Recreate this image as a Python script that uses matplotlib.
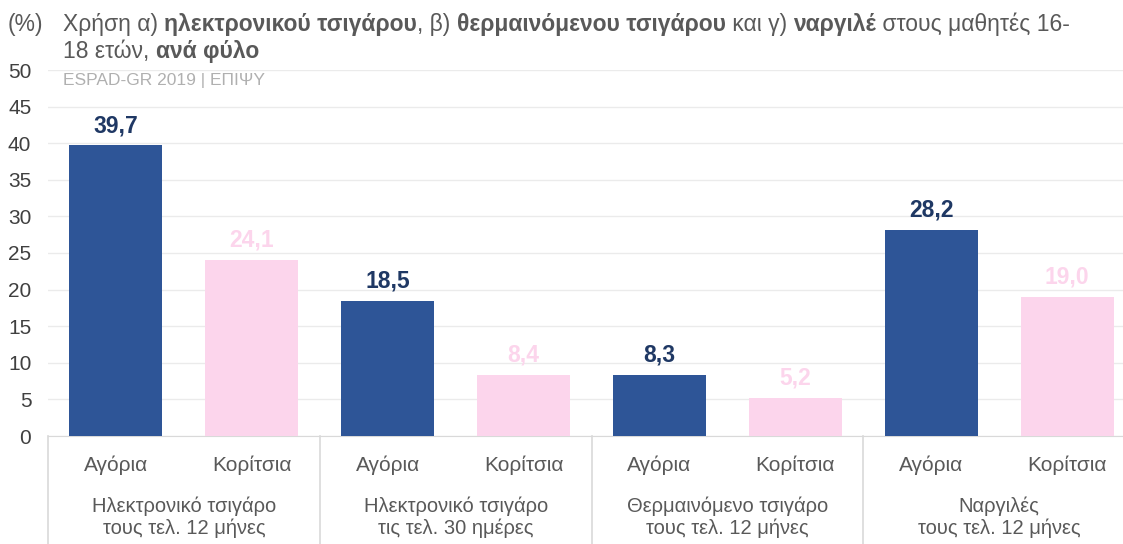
import matplotlib.pyplot as plt
import matplotlib.transforms as mtransforms

plt.rcParams['font.family'] = ['Liberation Sans', 'DejaVu Sans']

# data
groups = ['Ηλεκτρονικό τσιγάρο\nτους τελ. 12 μήνες',
          'Ηλεκτρονικό τσιγάρο\nτις τελ. 30 ημέρες',
          'Θερμαινόμενο τσιγάρο\nτους τελ. 12 μήνες',
          'Ναργιλές\nτους τελ. 12 μήνες']
sexes = ['Αγόρια', 'Κορίτσια']
boys = [39.7, 18.5, 8.3, 28.2]
girls = [24.1, 8.4, 5.2, 19.0]

navy = '#2e5597'
navy_txt = '#1f3864'
pink = '#fcd5ec'
grey_txt = '#595959'

fig = plt.figure(figsize=(11.23, 5.44), dpi=100)
W, H = 1123, 544
ax = fig.add_axes([48 / W, 108 / H, 1087 / W, 366 / H])

values, colors, lblcol, ticks = [], [], [], []
for b, g in zip(boys, girls):
    values += [b, g]
    colors += [navy, pink]
    lblcol += [navy_txt, pink]
    ticks += sexes
xs = list(range(len(values)))
bars = ax.bar(xs, values, width=0.685, color=colors, zorder=3)
for rect, v, c in zip(bars, values, lblcol):
    ax.annotate(f'{v:.1f}'.replace('.', ','), (rect.get_x() + rect.get_width() / 2, v),
                xytext=(0, 6), textcoords='offset points', ha='center', va='bottom',
                fontsize=16.5, fontweight='bold', color=c)

ax.set_xlim(-0.5, len(values) - 0.5)
ax.set_ylim(0, 50)
ax.set_yticks(range(0, 51, 5))
ax.grid(axis='y', color='#ebebeb', linewidth=1, zorder=0)
for s in ['top', 'right', 'left']:
    ax.spines[s].set_visible(False)
ax.spines['bottom'].set_color('#d9d9d9')
ax.tick_params(axis='y', length=0, pad=12, labelsize=15, labelcolor='#404040')
ax.set_xticks(xs)
ax.set_xticklabels(ticks)
ax.tick_params(axis='x', length=0, pad=14, labelsize=15, labelcolor=grey_txt)

trans = mtransforms.blended_transform_factory(ax.transData, ax.transAxes)
for i, g in enumerate(groups):
    ax.plot([2 * i - 0.5, 2 * i - 0.5], [0, -0.35], transform=trans, color='#d9d9d9',
            linewidth=1.2, clip_on=False)
    ax.text(2 * i + 0.5, -(496 - 436) / 366, g, transform=trans, ha='center', va='top',
            fontsize=14.5, color=grey_txt, linespacing=1.2)


def rich(x, y, parts):
    renderer = fig.canvas.get_renderer()
    for s, w in parts:
        t = fig.text(x / W, 1 - y / H, s, fontsize=16.5, fontweight=w, color=grey_txt, va='baseline')
        bb = t.get_window_extent(renderer)
        x = bb.x1


fig.text(8 / W, 1 - 31 / H, '(%)', fontsize=16.5, color=grey_txt, va='baseline')
rich(63, 31, [('Χρήση α) ', 'normal'), ('ηλεκτρονικού τσιγάρου', 'bold'), (', β) ', 'normal'),
              ('θερμαινόμενου τσιγάρου', 'bold'), (' και γ) ', 'normal'), ('ναργιλέ', 'bold'),
              (' στους μαθητές 16-', 'normal')])
rich(63, 58, [('18 ετών, ', 'normal'), ('ανά φύλο', 'bold')])
fig.text(63 / W, 1 - 85 / H, 'ESPAD-GR 2019 | ΕΠΙΨΥ', fontsize=12.5, color='#b0b0b0', va='baseline')

fig.savefig('out.png', dpi=100)
